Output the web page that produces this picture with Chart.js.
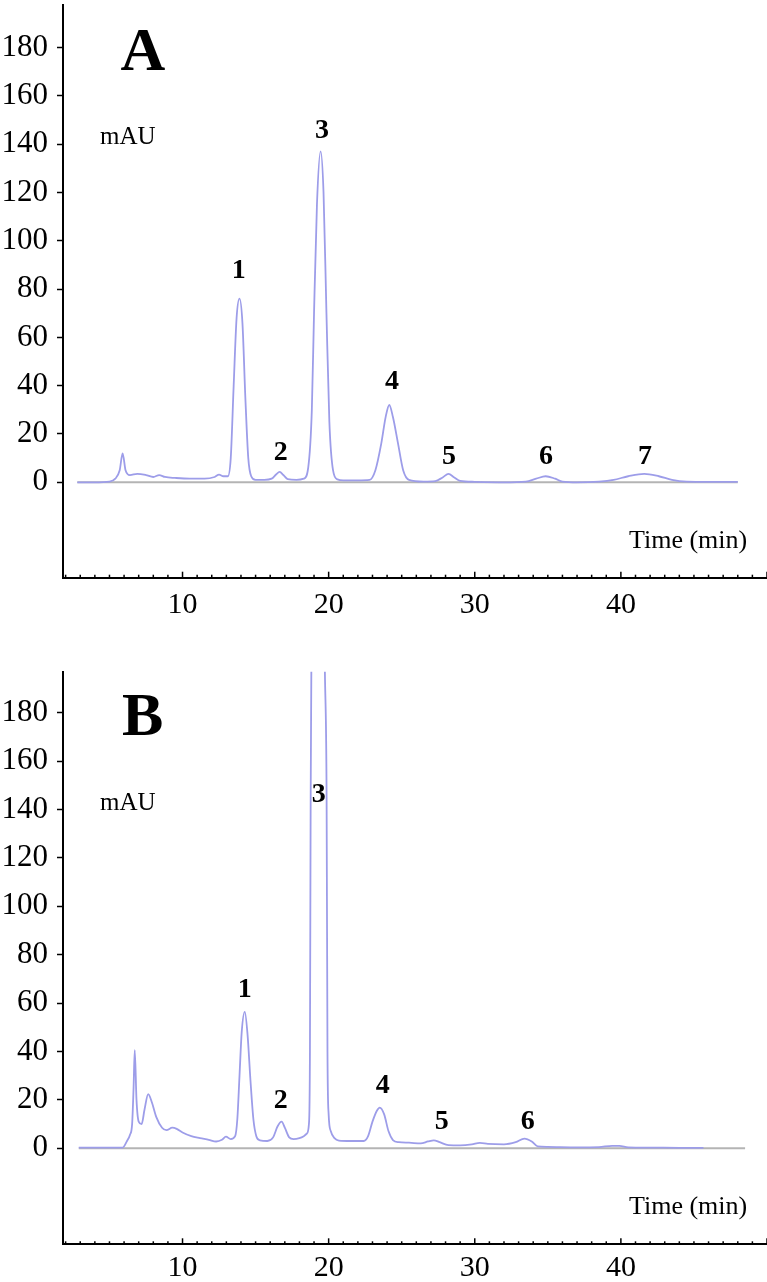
<!DOCTYPE html>
<html>
<head>
<meta charset="utf-8">
<script src="https://cdn.jsdelivr.net/npm/chart.js@4.4.1/dist/chart.umd.min.js"></script>
<style>
  html, body { margin: 0; padding: 0; background: #fff; }
  canvas { display: block; }
</style>
</head>
<body>
<canvas id="chartA" width="767" height="640"></canvas>
<canvas id="chartB" width="767" height="642"></canvas>
<script>
// shared axis ranges (min)
const xMin = 1.82;
const xMax = 50.0;
const xTickValues = [10, 20, 30, 40];
const yTickValues = [0, 20, 40, 60, 80, 100, 120, 140, 160, 180];

// chromatogram A
const timeA = [2.8, 4, 5.0, 5.4, 5.7, 5.9, 6.1, 6.4, 6.9, 7.5, 8.0, 8.4, 8.8, 9.5, 10.5, 11.5, 12.2, 12.5, 12.8, 13.1,
  13.3, 13.5, 13.7, 13.9, 14.1, 14.3, 14.5, 14.7, 15.0, 15.6, 16.1, 16.4, 16.65, 16.9, 17.2, 17.8, 18.3, 18.6, 18.85, 19.0,
  19.2, 19.45, 19.65, 19.85, 20.05, 20.3, 20.6, 21.0, 22.0, 22.8, 23.2, 23.6, 23.9, 24.15, 24.4, 24.75, 25.1, 25.5, 26.5, 27.3,
  27.8, 28.2, 28.6, 29.0, 30, 32, 33.5, 34.2, 34.85, 35.5, 36.0, 37, 38.5, 39.5, 40.5, 41.6, 42.6, 43.5, 44.5, 46, 48];
const signalA = [0, 0, 0.3, 1.5, 5, 12, 5, 3, 3.5, 3, 2.2, 3, 2.2, 1.8, 1.5, 1.5, 2.2, 3.2, 2.5, 2.5,
  10, 40, 68, 76, 66, 35, 10, 2.5, 1, 1, 1.5, 3.2, 4.3, 3, 1.3, 1, 1.5, 6, 30, 70,
  115, 137, 120, 70, 25, 5, 1.2, 0.8, 0.8, 1, 5, 16, 27, 32, 27, 16, 5, 1, 0.3, 0.5,
  2, 3.5, 2, 0.6, 0.2, 0, 0.3, 1.5, 2.5, 1.5, 0.3, 0, 0.3, 1, 2.5, 3.5, 2.5, 1, 0.3, 0.2, 0.2];
const baselineA = [2.8, 48];
const peakNamesA = ["1", "2", "3", "4", "5", "6", "7"];
const peakLabelXA = [13.85, 16.73, 19.54, 24.33, 28.23, 34.87, 41.65];
const peakLabelYA = [87.6, 12.3, 145.4, 41.5, 10.7, 10.7, 10.7];

// chromatogram B
const timeB = [2.9, 5.9, 6.2, 6.4, 6.55, 6.65, 6.73, 6.85, 7.0, 7.2, 7.4, 7.65, 7.9, 8.2, 8.6, 8.9, 9.3, 9.6, 10.0, 10.6,
  11.2, 11.8, 12.3, 12.7, 12.97, 13.3, 13.6, 13.75, 13.9, 14.05, 14.26, 14.45, 14.65, 14.85, 15.05, 15.3, 15.8, 16.2, 16.5, 16.78,
  17.0, 17.3, 17.6, 18.0, 18.3, 18.5, 18.65, 18.72, 18.77, 18.83, 19.3, 19.72, 19.86, 19.92, 20.0, 20.15, 20.4, 20.7, 21.5, 22.4,
  22.7, 23.0, 23.3, 23.5, 23.8, 24.1, 24.4, 24.8, 25.5, 26.3, 26.8, 27.2, 27.6, 28.2, 29, 29.8, 30.35, 30.9, 32, 32.8,
  33.4, 33.9, 34.3, 35, 37, 38.5, 39.4, 39.9, 40.5, 42, 44, 45.65];
const signalB = [0.3, 0.3, 3, 5.5, 10, 25, 40.6, 20, 11, 10, 16, 22.4, 19, 13, 8.5, 7.5, 8.5, 8, 6.5, 5,
  4.2, 3.5, 2.8, 3.5, 4.8, 3.8, 5, 12, 30, 48, 56.4, 47, 28, 12, 5, 3.3, 3, 4.5, 9, 11,
  8.5, 4.5, 3.8, 4.2, 5, 6, 10, 40, 145, 210, 650, 210, 145, 40, 14, 7, 4.2, 3.2, 3, 3,
  5, 11, 15.5, 16.8, 14, 7, 3.4, 2.5, 2.3, 2, 2.8, 3.3, 2.5, 1.3, 1.2, 1.6, 2.2, 1.8, 1.6, 2.5,
  4, 2.8, 0.8, 0.6, 0.4, 0.5, 1, 1, 0.4, 0.3, 0.2, 0.2];
const baselineB = [2.9, 48.5];
const peakNamesB = ["1", "2", "3", "4", "5", "6"];
const peakLabelXB = [14.26, 16.73, 19.33, 23.7, 27.74, 33.63];
const peakLabelYB = [65.4, 19.5, 146, 25.9, 11, 11];

const traceColor = "#9d9de9";
const serif = "'Liberation Serif', 'Times New Roman', serif";

const marksPlugin = {
  id: "marks",
  afterDraw(chart, _args, opts) {
    const { ctx, scales: { x, y } } = chart;
    ctx.save();
    // minor / major ticks pointing up from the time axis
    ctx.strokeStyle = "#000";
    ctx.lineWidth = 1.5;
    for (let t = Math.ceil(x.min); t <= x.max; t++) {
      const px = x.getPixelForValue(t);
      const len = t % 10 === 0 ? 6 : 3;
      ctx.beginPath();
      ctx.moveTo(px, y.bottom);
      ctx.lineTo(px, y.bottom - len);
      ctx.stroke();
    }

    ctx.fillStyle = "#000";
    ctx.textAlign = "center";
    ctx.textBaseline = "middle";

    ctx.font = "bold 28px " + serif;
    opts.names.forEach((name, i) => {
      ctx.fillText(name, x.getPixelForValue(opts.labelX[i]), y.getPixelForValue(opts.labelY[i]));
    });

    ctx.font = "bold 62px " + serif;
    ctx.fillText(opts.panel, x.getPixelForValue(7.28), y.getPixelForValue(177.5));

    ctx.font = "25px " + serif;
    ctx.fillText("mAU", x.getPixelForValue(6.25), y.getPixelForValue(142.6));

    ctx.font = "26px " + serif;
    ctx.fillText("Time (min)", x.getPixelForValue(44.6), y.getPixelForValue(-24.2));
    ctx.restore();
  },
};

function makeChart(canvasId, times, signal, baseline, panel, names, labelX, labelY, layout) {
  return new Chart(document.getElementById(canvasId), {
    type: "line",
    data: {
      datasets: [
        {
          data: times.map((t, i) => ({ x: t, y: signal[i] })),
          borderColor: traceColor,
          borderWidth: 1.8,
          pointRadius: 0,
          cubicInterpolationMode: "monotone",
          order: 1,
        },
        {
          data: baseline.map((t) => ({ x: t, y: 0 })),
          borderColor: "#b4b4b4",
          borderWidth: 2,
          pointRadius: 0,
          order: 2,
        },
      ],
    },
    options: {
      responsive: false,
      animation: false,
      layout: { padding: { top: layout.top, left: 0, right: 0, bottom: 0 } },
      plugins: {
        legend: { display: false },
        tooltip: { enabled: false },
        marks: { panel, names, labelX, labelY },
      },
      scales: {
        x: {
          type: "linear",
          min: xMin,
          max: xMax,
          afterFit: (s) => {
            s.height = layout.xHeight;
            s.paddingLeft = 0;
            s.paddingRight = 0;
          },
          afterBuildTicks: (s) => { s.ticks = xTickValues.map((v) => ({ value: v })); },
          grid: { display: false, drawTicks: false },
          border: { display: true, color: "#000", width: 2 },
          ticks: { color: "#000", font: { family: serif, size: 30 }, padding: layout.xPad, maxRotation: 0, autoSkip: false },
        },
        y: {
          type: "linear",
          min: layout.yMin,
          max: layout.yMax,
          afterFit: (s) => {
            s.width = 63;
            s.paddingTop = 0;
            s.paddingBottom = 0;
          },
          afterBuildTicks: (s) => { s.ticks = yTickValues.map((v) => ({ value: v })); },
          grid: { drawOnChartArea: false, drawTicks: true, tickLength: 6, tickColor: "#000", tickWidth: 1.5 },
          border: { display: true, color: "#000", width: 2 },
          ticks: { color: "#000", font: { family: serif, size: 31 }, padding: 9 },
        },
      },
    },
    plugins: [marksPlugin],
  });
}

makeChart("chartA", timeA, signalA, baselineA, "A", peakNamesA, peakLabelXA, peakLabelYA,
  { top: 5, xHeight: 62.3, xPad: 9, yMin: -39.5, yMax: 197.6 });
makeChart("chartB", timeB, signalB, baselineB, "B", peakNamesB, peakLabelXB, peakLabelYB,
  { top: 31.7, xHeight: 37.7, xPad: 6, yMin: -39.7, yMax: 197 });
</script>
</body>
</html>
